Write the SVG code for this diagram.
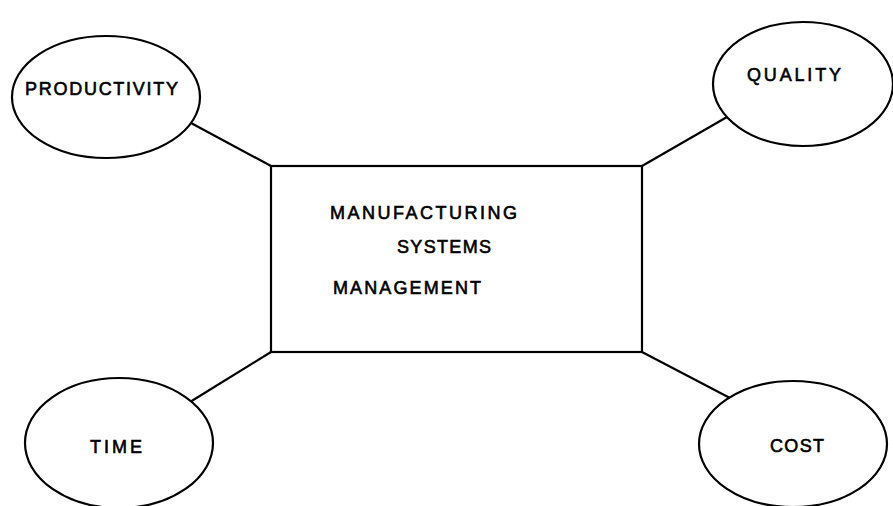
<svg xmlns="http://www.w3.org/2000/svg" width="893" height="506" viewBox="0 0 893 506">
  <style>
    .shape { fill: #ffffff; stroke: #000000; stroke-width: 2.2; }
    .link { stroke: #000000; stroke-width: 2.2; fill: none; }
    .label { font-family: "Liberation Sans", Arial, sans-serif; font-size: 18px; fill: #000000; stroke: #000000; stroke-width: 0.6; }
  </style>
  <rect width="893" height="506" fill="#ffffff"/>

  <!-- connectors from the central box corners to the four ellipses -->
  <g id="connectors">
    <line class="link" x1="191" y1="123" x2="271" y2="166"/>
    <line class="link" x1="727" y1="117" x2="642" y2="166"/>
    <line class="link" x1="190" y1="402" x2="271" y2="352"/>
    <line class="link" x1="642" y1="352" x2="730" y2="398"/>
  </g>

  <g id="center">
    <rect class="shape" x="271" y="166" width="371" height="186"/>
    <text class="label" x="330" y="219" textLength="187" lengthAdjust="spacing">MANUFACTURING</text>
    <text class="label" x="397" y="253" textLength="94" lengthAdjust="spacing">SYSTEMS</text>
    <text class="label" x="333" y="294" textLength="148" lengthAdjust="spacing">MANAGEMENT</text>
  </g>

  <g id="productivity">
    <ellipse class="shape" cx="106" cy="97" rx="94" ry="61"/>
    <text class="label" x="25" y="95" textLength="153" lengthAdjust="spacing">PRODUCTIVITY</text>
  </g>

  <g id="quality">
    <ellipse class="shape" cx="803" cy="84" rx="90" ry="62"/>
    <text class="label" x="747" y="81" textLength="94" lengthAdjust="spacing">QUALITY</text>
  </g>

  <g id="time">
    <ellipse class="shape" cx="119" cy="443" rx="94" ry="65"/>
    <text class="label" x="90" y="453" textLength="52" lengthAdjust="spacing">TIME</text>
  </g>

  <g id="cost">
    <ellipse class="shape" cx="793" cy="444" rx="94" ry="63"/>
    <text class="label" x="770" y="452" textLength="54" lengthAdjust="spacing">COST</text>
  </g>
</svg>
